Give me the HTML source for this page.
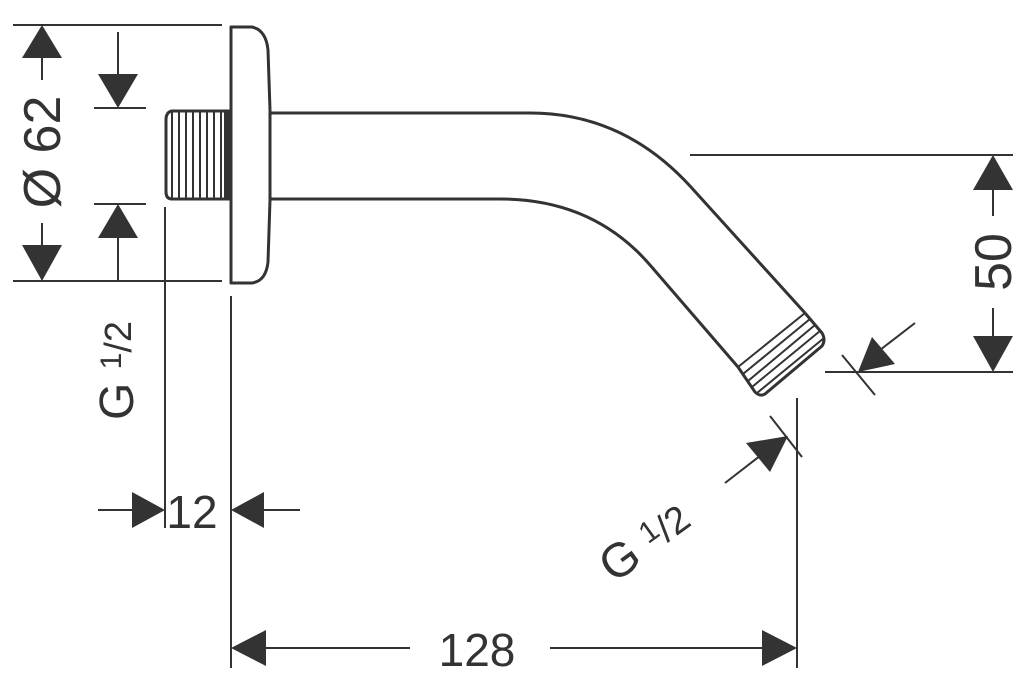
<!DOCTYPE html>
<html><head><meta charset="utf-8"><style>
html,body{margin:0;padding:0;background:#fff;}
svg{display:block;}
text{font-family:"Liberation Sans",sans-serif;fill:#333;}
</style></head><body>
<svg width="1023" height="700" viewBox="0 0 1023 700" xmlns="http://www.w3.org/2000/svg">
<g stroke="#333" stroke-width="2" fill="none">
<!-- dimension lines left -->
<line x1="13" y1="25" x2="222" y2="25"/>
<line x1="13" y1="281" x2="222" y2="281"/>
<line x1="42" y1="58" x2="42" y2="80"/>
<line x1="42" y1="223" x2="42" y2="245"/>
<line x1="94" y1="108" x2="146" y2="108"/>
<line x1="94" y1="204" x2="146" y2="204"/>
<line x1="118" y1="32" x2="118" y2="76"/>
<line x1="118" y1="236" x2="118" y2="281"/>
<line x1="165" y1="207" x2="165" y2="528"/>
<line x1="231" y1="296" x2="231" y2="668"/>
<line x1="98" y1="510" x2="135" y2="510"/>
<line x1="262" y1="510" x2="300" y2="510"/>
<line x1="262" y1="648" x2="410" y2="648"/>
<line x1="550" y1="648" x2="766" y2="648"/>
<line x1="797" y1="398" x2="797" y2="668"/>
<!-- right dims -->
<line x1="690" y1="155" x2="1013" y2="155"/>
<line x1="825" y1="372" x2="1013" y2="372"/>
<line x1="993" y1="188" x2="993" y2="216"/>
<line x1="993" y1="308" x2="993" y2="338"/>
<line x1="842" y1="355" x2="875" y2="395"/>
<line x1="880" y1="350" x2="915" y2="323"/>
<line x1="770" y1="416" x2="802" y2="457"/>
<line x1="725" y1="483" x2="765" y2="452"/>
</g>
<g fill="#333">
<polygon points="42,25 22,58 62,58"/>
<polygon points="42,281 22,245 62,245"/>
<polygon points="118,108 98,74 138,74"/>
<polygon points="118,204 98,238 138,238"/>
<polygon points="165,510 132,492 132,528"/>
<polygon points="231,510 264,492 264,528"/>
<polygon points="231,648 266,630 266,666"/>
<polygon points="797,648 762,630 762,666"/>
<polygon points="993,155 973,190 1013,190"/>
<polygon points="993,372 973,336 1013,336"/>
<polygon points="858,372 895,364 872,337"/>
<polygon points="788,436 746,443 770,472"/>
</g>
<!-- part -->
<g stroke="#333" stroke-width="3" fill="none" stroke-linejoin="round">
<path d="M231,27 L252,27 Q266,30 268,50 L270,110 L270,200 L268,262 Q266,281 252,283 L231,283 Z"/>
<path d="M230,111 L172,111 Q166,112 166,120 L166,192 Q166,199 172,199 L230,199"/>
<path d="M270,113 L530,113 Q623,113 690,186 L805,313"/>
<path d="M270,199 L500,199 Q593,199 650,265 L738,367"/>
<path d="M805,313 L822,333 Q826,340 822,346 L765,394 Q760,397 755,392 L738,367"/>
</g>
<g stroke="#333" stroke-width="2">
<line x1="172" y1="112" x2="172" y2="198"/>
<line x1="179" y1="112" x2="179" y2="198"/>
<line x1="186" y1="112" x2="186" y2="198"/>
<line x1="193" y1="112" x2="193" y2="198"/>
<line x1="200" y1="112" x2="200" y2="198"/>
<line x1="207" y1="112" x2="207" y2="198"/>
<line x1="214" y1="112" x2="214" y2="198"/>
<line x1="221" y1="112" x2="221" y2="198"/>
<rect x="225" y="112" width="5" height="87" fill="#333"/>
<line x1="738" y1="367" x2="805" y2="313"/>
<line x1="743" y1="374" x2="810" y2="319"/>
<line x1="748" y1="381" x2="815" y2="325"/>
<line x1="752" y1="387" x2="820" y2="331"/>
<line x1="757" y1="393" x2="824" y2="338"/>
</g>
<!-- text -->
<text x="0" y="0" font-size="52" text-anchor="middle" transform="translate(60,152) rotate(-90)">Ø 62</text>
<text x="0" y="0" font-size="52" text-anchor="middle" transform="translate(1011,262) rotate(-90)">50</text>
<text x="192" y="528" font-size="46" text-anchor="middle">12</text>
<text x="477" y="666" font-size="46" text-anchor="middle">128</text>
<text transform="translate(133,420) rotate(-90)" font-size="48">G <tspan font-size="30" dy="-12">1</tspan><tspan font-size="38" dy="10">/2</tspan></text>
<text transform="translate(614,584) rotate(-36)" font-size="48">G <tspan font-size="30" dy="-12">1</tspan><tspan font-size="38" dy="10">/2</tspan></text>
</svg>
</body></html>
